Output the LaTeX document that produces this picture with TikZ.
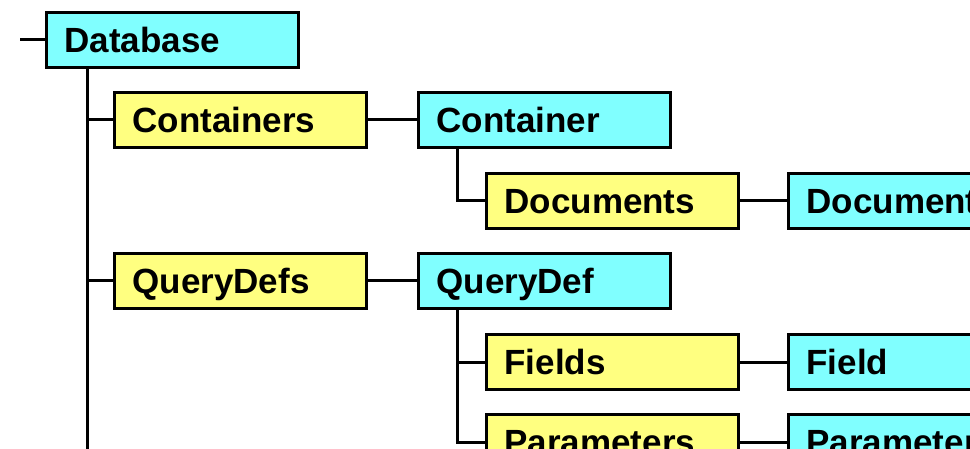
\documentclass[tikz,border=0pt]{standalone}
\usepackage{fontspec}
\setmainfont{Liberation Sans}
\definecolor{boxcyan}{RGB}{128,255,255}
\definecolor{boxyellow}{RGB}{255,255,128}
\begin{document}
\begin{tikzpicture}[x=1pt,y=-1pt,
  objbox/.style={draw=black, line width=3pt, anchor=north west,
    minimum height=55pt, text width=216pt, inner xsep=18pt, inner ysep=0pt,
    align=left, text height=25pt, text depth=0pt,
    font=\fontsize{35}{40}\selectfont\bfseries},
  obj/.style={objbox, fill=boxcyan},
  coll/.style={objbox, fill=boxyellow},
  link/.style={draw=black, line width=3pt}]
\useasboundingbox (0,0) rectangle (970,449);
\clip (0,0) rectangle (970,449);
\fill[white] (0,0) rectangle (970,449);

\node[obj]  (db)     at (45,11)   {Database};
\node[coll] (cs)     at (113,91)  {Containers};
\node[obj]  (ctr)    at (417,91)  {Container};
\node[coll] (docs)   at (485,172) {Documents};
\node[obj]  (doc)    at (787,172) {Document};
\node[coll] (qds)    at (113,252) {QueryDefs};
\node[obj]  (qd)     at (417,252) {QueryDef};
\node[coll] (flds)   at (485,333) {Fields};
\node[obj]  (fld)    at (787,333) {Field};
\node[coll] (prms)   at (485,413) {Parameters};
\node[obj]  (prm)    at (787,413) {Parameter};

\coordinate (stub) at (20,0);
\coordinate (trunk) at (87,460);
\coordinate (cv) at (457,0);
\coordinate (qv) at (457,0);

\draw[link] (db.west -| stub) -- (db.west);
\draw[link] (db.south -| trunk) -- (trunk);
\draw[link] (cs.west -| trunk) -- (cs.west);
\draw[link] (qds.west -| trunk) -- (qds.west);
\draw[link] (cs.east) -- (ctr.west);
\draw[link] (qds.east) -- (qd.west);
\draw[link] (ctr.south -| cv) |- (docs.west);
\draw[link] (docs.east) -- (doc.west);
\draw[link] (qd.south -| qv) |- (prms.west);
\draw[link] (flds.west -| qv) -- (flds.west);
\draw[link] (flds.east) -- (fld.west);
\draw[link] (prms.east) -- (prm.west);
\end{tikzpicture}
\end{document}
